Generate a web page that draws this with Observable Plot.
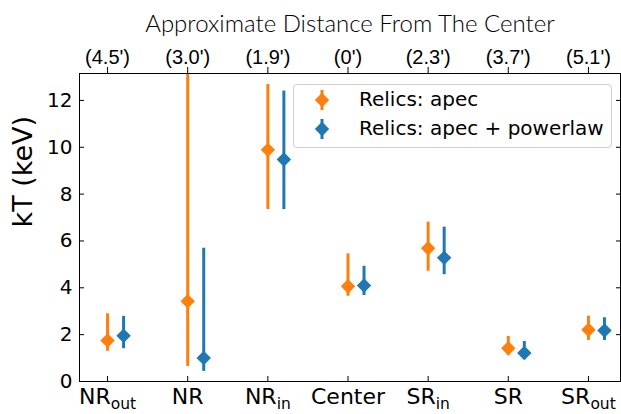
<!DOCTYPE html>
<html><head><meta charset="utf-8">
<script src="https://cdn.jsdelivr.net/npm/d3@7"></script>
<script src="https://cdn.jsdelivr.net/npm/@observablehq/plot@0.6"></script>
<style>
body{margin:0;background:#fff;}
#wrap{position:relative;width:621px;height:414px;}
.legend{position:absolute;left:293px;top:84px;width:317px;height:62px;border:1px solid #d0d0d0;border-radius:4px;background:rgba(255,255,255,0.85);font-family:"DejaVu Sans";font-size:20px;color:#000;}
.legend svg{position:absolute;}
.legend span{position:absolute;left:65px;white-space:nowrap;line-height:20px;}
</style></head><body><div id="wrap"></div>
<script>
const categories = ["NR_out", "NR", "NR_in", "Center", "SR_in", "SR", "SR_out"];
const distances = ["(4.5')", "(3.0')", "(1.9')", "(0')", "(2.3')", "(3.7')", "(5.1')"];
const seriesNames = ["Relics: apec", "Relics: apec + powerlaw"];
const seriesColors = ["#ff7f0e", "#1f77b4"];
const apec   = [1.75, 3.43, 9.89, 4.07, 5.69, 1.42, 2.21];
const apecLo = [1.29, 0.64, 7.34, 3.64, 4.71, 1.11, 1.75];
const apecHi = [2.89, 15.0, 12.68, 5.45, 6.80, 1.92, 2.79];
const pl     = [1.95, 1.00, 9.48, 4.10, 5.28, 1.22, 2.18];
const plLo   = [1.40, 0.43, 7.34, 3.67, 4.56, 0.94, 1.75];
const plHi   = [2.78, 5.69, 12.40, 4.92, 6.59, 1.71, 2.72];
const yTicks = [0, 2, 4, 6, 8, 10, 12];

const OFFSET = 0.2;
const xTicks = categories.map((_, i) => i);
const rows = [];
categories.forEach((c, i) => {
  rows.push({x: i, v: apec[i], lo: apecLo[i], hi: apecHi[i], s: 0});
});
categories.forEach((c, i) => {
  rows.push({x: i + OFFSET, v: pl[i], lo: plLo[i], hi: plHi[i], s: 1});
});
const orange = rows.filter(d => d.s === 0), blue = rows.filter(d => d.s === 1);

const chart = Plot.plot({
  width: 621, height: 414,
  marginLeft: 79, marginRight: 1, marginTop: 73, marginBottom: 33,
  style: {fontFamily: "DejaVu Sans", fontSize: "20px", background: "white", overflow: "visible"},
  x: {domain: [-0.35, 6.4]},
  y: {domain: [0, 13.15]},
  marks: [
    Plot.ruleX(orange, {x: "x", y1: "lo", y2: "hi", stroke: seriesColors[0], strokeWidth: 3, clip: true}),
    Plot.dot(orange, {x: "x", y: "v", symbol: "diamond2", r: 6.5, fill: seriesColors[0], stroke: null}),
    Plot.ruleX(blue, {x: "x", y1: "lo", y2: "hi", stroke: seriesColors[1], strokeWidth: 3, clip: true}),
    Plot.dot(blue, {x: "x", y: "v", symbol: "diamond2", r: 6.5, fill: seriesColors[1], stroke: null}),
    Plot.frame({stroke: "black", strokeWidth: 1}),
    Plot.axisX({anchor: "bottom", ticks: xTicks, tickSize: -5, tickFormat: () => "", label: null}),
    Plot.axisX({anchor: "bottom", ticks: xTicks, tickSize: 0, tickPadding: 7, tickFormat: i => categories[i], label: null, fontSize: 22, fontFamily: "DejaVu Sans"}),
    Plot.axisX({anchor: "top", ticks: xTicks, tickSize: 7, tickPadding: 3, tickFormat: i => distances[i], label: null, fontSize: 20, fontFamily: "Liberation Sans"}),
    Plot.axisY({anchor: "left", ticks: yTicks, tickSize: -5, tickFormat: () => "", label: null}),
    Plot.axisY({anchor: "left", ticks: yTicks, tickSize: 0, tickPadding: 7, label: null, fontSize: 20, fontFamily: "DejaVu Sans"}),
    Plot.axisY({anchor: "right", ticks: yTicks, tickSize: -5, tickFormat: () => "", label: null}),
    Plot.text(["kT (keV)"], {frameAnchor: "left", rotate: -90, dx: -56, fontSize: 27, fontFamily: "DejaVu Sans"}),
    Plot.text(["Approximate Distance From The Center"], {frameAnchor: "top", dy: -59, fontSize: 24, fontFamily: "Lato", fontWeight: 300})
  ]
});

// subscripts in category labels
chart.querySelectorAll("text").forEach(t => {
  const s = t.textContent;
  if (s.includes("_") && t.children.length === 0) {
    const [main, sub] = s.split("_");
    t.textContent = main;
    const ts = document.createElementNS("http://www.w3.org/2000/svg", "tspan");
    ts.setAttribute("font-size", "15.5");
    ts.setAttribute("dy", "5");
    ts.textContent = sub;
    t.appendChild(ts);
  }
});

const wrap = document.getElementById("wrap");
wrap.appendChild(chart);

// legend
const legend = document.createElement("div");
legend.className = "legend";
seriesNames.forEach((name, k) => {
  const cy = 15 + k * 29;
  const svg = document.createElementNS("http://www.w3.org/2000/svg", "svg");
  svg.setAttribute("width", 30); svg.setAttribute("height", 30);
  svg.style.left = "13px"; svg.style.top = (cy - 15) + "px";
  svg.innerHTML = `<line x1="15" x2="15" y1="5" y2="25" stroke="${seriesColors[k]}" stroke-width="3"/>` +
    `<path d="M15,7.8L22.2,15L15,22.2L7.8,15Z" fill="${seriesColors[k]}"/>`;
  legend.appendChild(svg);
  const sp = document.createElement("span");
  sp.textContent = name;
  sp.style.top = (cy - 11) + "px";
  legend.appendChild(sp);
});
wrap.appendChild(legend);
</script>
</body></html>
